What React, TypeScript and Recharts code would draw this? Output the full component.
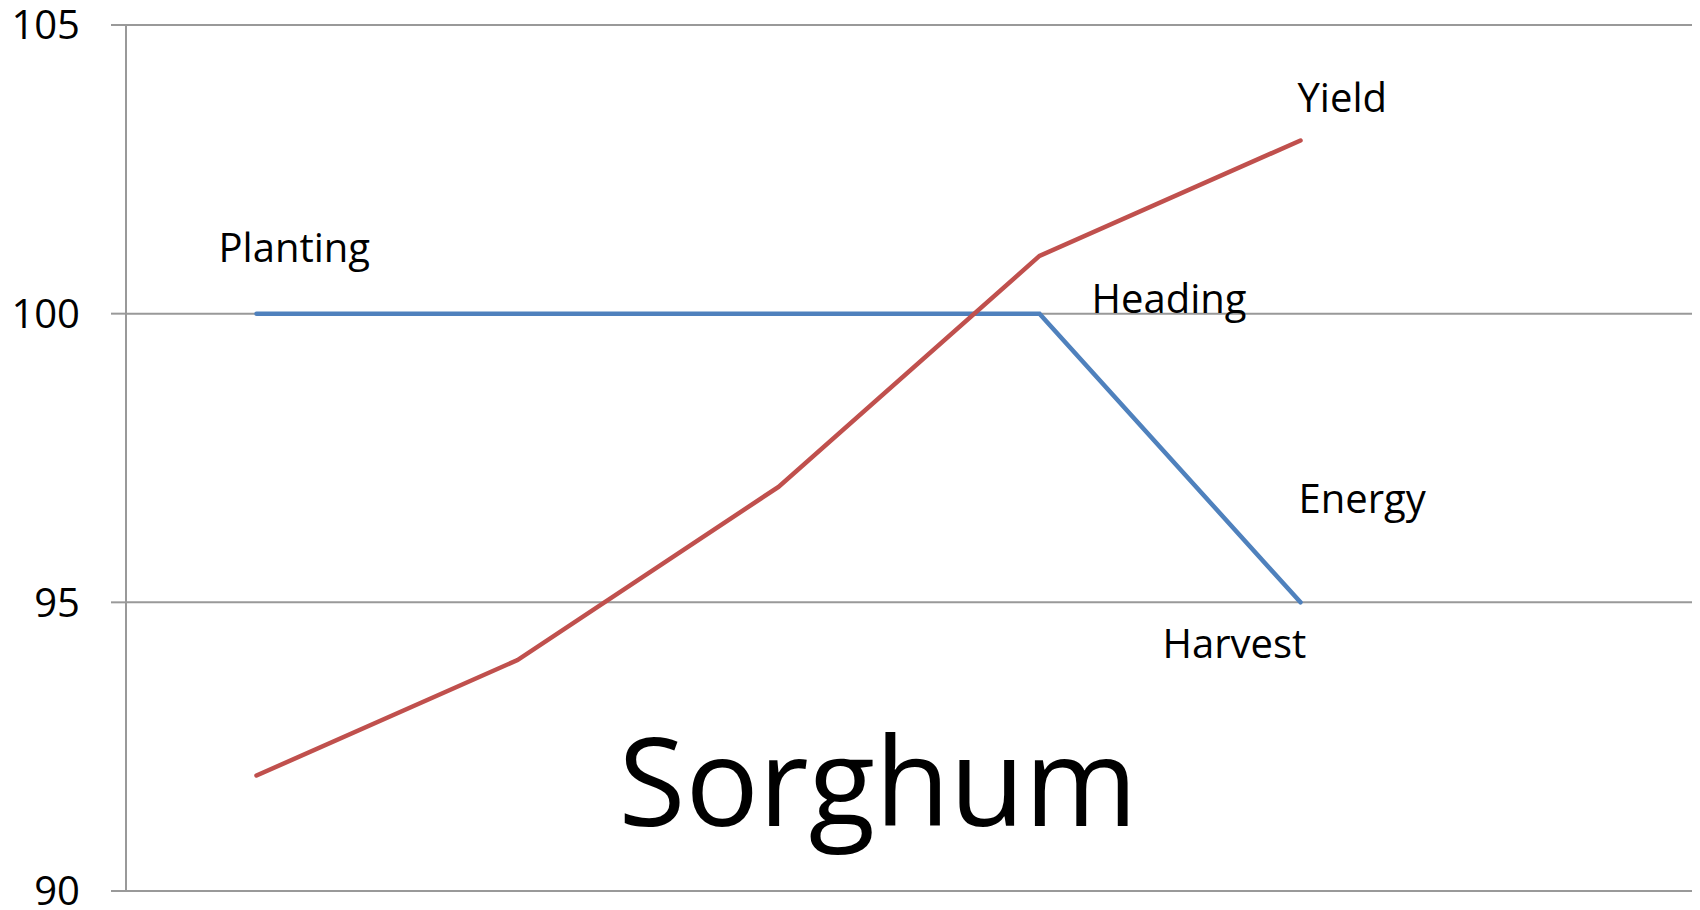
import React from 'react';
import { LineChart, Line, XAxis, YAxis, CartesianGrid, ReferenceDot } from 'recharts';

const stages = ['S1', 'S2', 'S3', 'S4', 'S5', 'S6'];
const yieldValues: (number | null)[] = [92, 94, 97, 101, 103, null];
const energyValues: (number | null)[] = [100, 100, 100, 100, 95, null];
const yTicks = [90, 95, 100, 105];

// annotation text anchored to a data point (category, value)
const annotationTexts = ['Planting', 'Yield', 'Heading', 'Energy', 'Harvest', 'Sorghum'];
const annotationStages = ['S1', 'S5', 'S4', 'S5', 'S5', 'S3'];
const annotationValues = [100, 103, 100, 95, 95, 90];

const data = stages.map((s, i) => ({ stage: s, yield: yieldValues[i], energy: energyValues[i] }));

const FONT = '"Open Sans", "Noto Sans", sans-serif';
const offsets: Record<string, { dx: number; dy: number; size: number }> = {
  Planting: { dx: -38, dy: -52, size: 40 },
  Yield: { dx: -3, dy: -28, size: 40 },
  Heading: { dx: 52, dy: -1, size: 40 },
  Energy: { dx: -2, dy: -89, size: 40 },
  Harvest: { dx: -138, dy: 56, size: 40 },
  Sorghum: { dx: -160, dy: -65, size: 122 },
};

export default function App() {
  return (
    <div style={{ position: 'absolute', left: 0, top: 0, width: 1700, height: 910, background: '#fff' }}>
      <LineChart width={1700} height={910} data={data} margin={{ top: 25, right: 8, bottom: 19, left: 0 }}>
        <CartesianGrid horizontal vertical={false} stroke="#999999" strokeWidth={2} />
        <XAxis dataKey="stage" type="category" scale="band" tick={false} tickLine={false} height={0} axisLine={{ stroke: '#999999', strokeWidth: 2 }} />
        <YAxis
          width={126}
          domain={[90, 105]}
          ticks={yTicks}
          interval={0}
          tickSize={15}
          tickMargin={31}
          axisLine={{ stroke: '#999999', strokeWidth: 2 }}
          tickLine={{ stroke: '#999999', strokeWidth: 2 }}
          tick={{ fill: '#000', fontSize: 40, fontFamily: FONT }}
        />
        <Line dataKey="energy" stroke="#4F81BD" strokeWidth={4.5} dot={false} isAnimationActive={false} strokeLinecap="round" />
        <Line dataKey="yield" stroke="#C0504D" strokeWidth={4.5} dot={false} isAnimationActive={false} strokeLinecap="round" />
        {annotationTexts.map((t, i) => {
          const o = offsets[t];
          return (
            <ReferenceDot
              key={t}
              x={annotationStages[i]}
              y={annotationValues[i]}
              r={0}
              fill="none"
              stroke="none"
              label={{
                content: (p: any) => {
                  const vb = p.viewBox || {};
                  return (
                    <text x={vb.x + o.dx} y={vb.y + o.dy} fontSize={o.size} fontFamily={FONT} fill="#000" textAnchor="start">
                      {t}
                    </text>
                  );
                },
              }}
            />
          );
        })}
      </LineChart>
    </div>
  );
}
